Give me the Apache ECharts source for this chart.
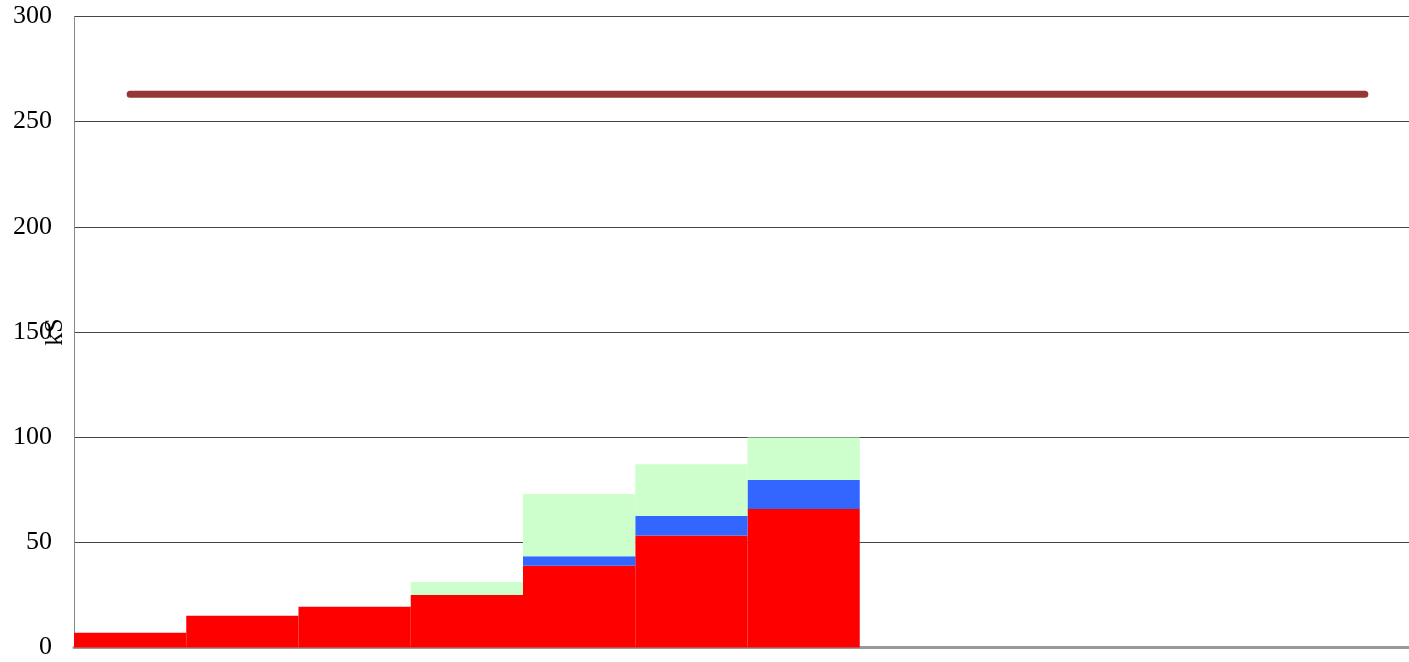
<!DOCTYPE html>
<html>
<head>
<meta charset="utf-8">
<script src="https://cdn.jsdelivr.net/npm/echarts@6/dist/echarts.min.js"></script>
<style>html,body{margin:0;padding:0;background:#fff}#c{width:1409px;height:662px}</style>
</head>
<body>
<div id="c"></div>
<script>
var categories = ['1','2','3','4','5','6','7','8','9','10','11','12'];
var redValues   = [7.0, 15.1, 19.4, 25.0, 38.9, 53.2, 65.9, null, null, null, null, null];
var blueValues  = [null, null, null, null, 4.5, 9.3, 13.7, null, null, null, null, null];
var greenValues = [null, null, null, 6.1, 29.6, 24.6, 20.3, null, null, null, null, null];
var limitValues = [263, 263, 263, 263, 263, 263, 263, 263, 263, 263, 263, 263];
var yTicks = [0, 50, 100, 150, 200, 250, 300];

var chart = echarts.init(document.getElementById('c'));
var font = 'Liberation Serif, Times New Roman, serif';
chart.setOption({
  animation: false,
  grid: {left: 74, right: -12, top: 16.5, bottom: 14.5, containLabel: false, outerBoundsMode: 'none'},
  xAxis: {
    type: 'category', data: categories, boundaryGap: true,
    axisLine: {lineStyle: {color: '#999', width: 3}},
    axisTick: {show: false}, axisLabel: {show: false}, splitLine: {show: false}
  },
  yAxis: {
    type: 'value', min: yTicks[0], max: yTicks[yTicks.length-1], interval: 50,
    name: 'kS', nameLocation: 'middle', nameRotate: 90, nameGap: 6, nameMoveOverlap: false,
    nameTextStyle: {fontFamily: font, fontSize: 26, color: '#000'},
    axisLine: {show: true, lineStyle: {color: '#888', width: 1}},
    axisTick: {show: false},
    axisLabel: {fontFamily: font, fontSize: 26, color: '#000', margin: 22, padding: [3, 0, 0, 0]},
    splitLine: {lineStyle: {color: '#444', width: 1}}
  },
  series: [
    {type: 'bar', stack: 's', data: redValues, barCategoryGap: '0%', itemStyle: {color: '#FF0000'}},
    {type: 'bar', stack: 's', data: blueValues, itemStyle: {color: '#3366FF'}},
    {type: 'bar', stack: 's', data: greenValues, itemStyle: {color: '#CCFFCC'}},
    {type: 'line', data: limitValues, showSymbol: false, symbol: 'none',
     lineStyle: {color: '#953737', width: 7, cap: 'round'}, z: 5}
  ]
});
</script>
</body>
</html>
